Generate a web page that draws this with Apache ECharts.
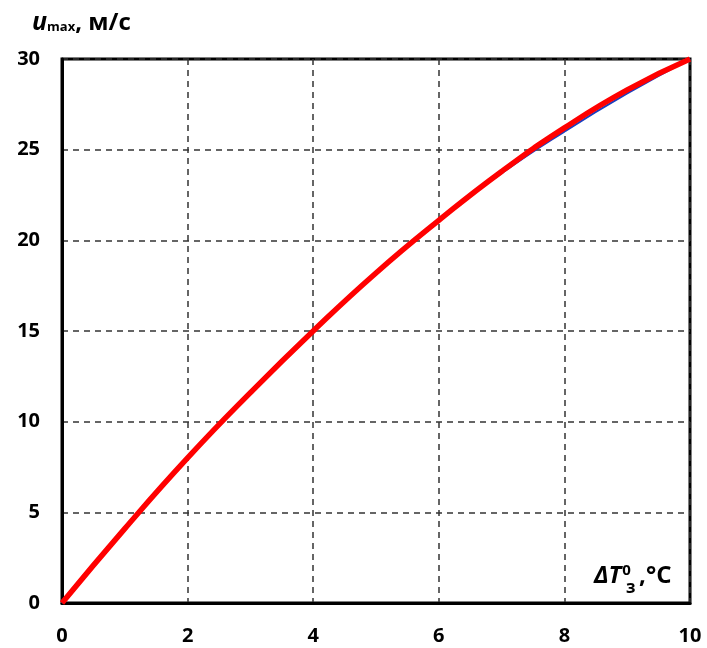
<!DOCTYPE html>
<html><head><meta charset="utf-8">
<script src="https://cdn.jsdelivr.net/npm/echarts@6/dist/echarts.min.js"></script>
<style>html,body{margin:0;padding:0;background:#fff}#c{width:707px;height:648px}</style>
</head><body><div id="c"></div>
<script>
const xValues = [0, 1, 2, 3, 4, 5, 6, 7, 8, 9, 10];
const redValues = [0, 4.1, 8.0, 11.6, 15.0, 18.2, 21.1, 23.8, 26.2, 28.3, 30];
const blueValues = [0, 4.1, 8.0, 11.6, 15.0, 18.2, 21.1, 23.7, 26.0, 28.1, 30];
const xTicks = [0, 2, 4, 6, 8, 10];
const yTicks = [0, 5, 10, 15, 20, 25, 30];

const F = '"Open Sans", Lato, "Liberation Sans", sans-serif';
const chart = echarts.init(document.getElementById('c'));
chart.setOption({
  animation: false,
  backgroundColor: '#fff',
  grid: {left: 62, right: 17, top: 59, bottom: 45, show: true, borderColor: '#000', borderWidth: 3, backgroundColor: 'transparent'},
  xAxis: {
    type: 'value', min: 0, max: 10, interval: 2,
    axisLine: {show: true, lineStyle: {color: '#000', width: 3}},
    axisTick: {show: false},
    axisLabel: {color: '#000', fontFamily: F, fontWeight: 'bold', fontSize: 20, margin: 23},
    splitLine: {show: true, lineStyle: {color: '#333', width: 1.5, type: [6, 5]}}
  },
  yAxis: {
    type: 'value', min: 0, max: 30, interval: 5,
    axisLine: {show: true, lineStyle: {color: '#000', width: 3}},
    axisTick: {show: false},
    axisLabel: {color: '#000', fontFamily: F, fontWeight: 'bold', fontSize: 20, margin: 22},
    splitLine: {show: true, lineStyle: {color: '#333', width: 1.5, type: [6, 5]}}
  },
  series: [
    {type: 'line', smooth: true, symbol: 'none', data: xValues.map((x, i) => [x, blueValues[i]]), lineStyle: {color: '#1a3fc0', width: 2}, z: 2},
    {type: 'line', smooth: true, symbol: 'none', data: xValues.map((x, i) => [x, redValues[i]]), lineStyle: {color: '#ff0000', width: 5.5}, z: 3}
  ],
  graphic: [
    {type: 'text', left: 32, top: 10, style: {
      text: '{u|u}{s|max}{n|, м/с}',
      rich: {
        u: {fontFamily: F, fontSize: 25, fontStyle: 'italic', fontWeight: 'bold', fill: '#000', verticalAlign: 'bottom'},
        s: {fontFamily: F, fontSize: 13, fontWeight: 'bold', fill: '#000', verticalAlign: 'bottom', padding: [0, 0, 1, 0]},
        n: {fontFamily: F, fontSize: 24, fontWeight: 'bold', fill: '#000', verticalAlign: 'bottom'}
      }
    }},
    {type: 'text', left: 594, top: 563, style: {
      text: '{d|ΔT}{p|0}{c| ,°C}',
      rich: {
        d: {fontFamily: F, fontSize: 24, fontStyle: 'italic', fontWeight: 'bold', fill: '#000'},
        p: {fontFamily: F, fontSize: 15, fontWeight: 'bold', fill: '#000', padding: [0, 0, 12, 1]},
        c: {fontFamily: F, fontSize: 24, fontWeight: 'bold', fill: '#000', padding: [0, 0, 0, 2]}
      }
    }},
    {type: 'text', left: 626, top: 580, style: {text: 'з', fontFamily: F, fontSize: 17, fontWeight: 'bold', fill: '#000'}}
  ]
});
</script></body></html>
